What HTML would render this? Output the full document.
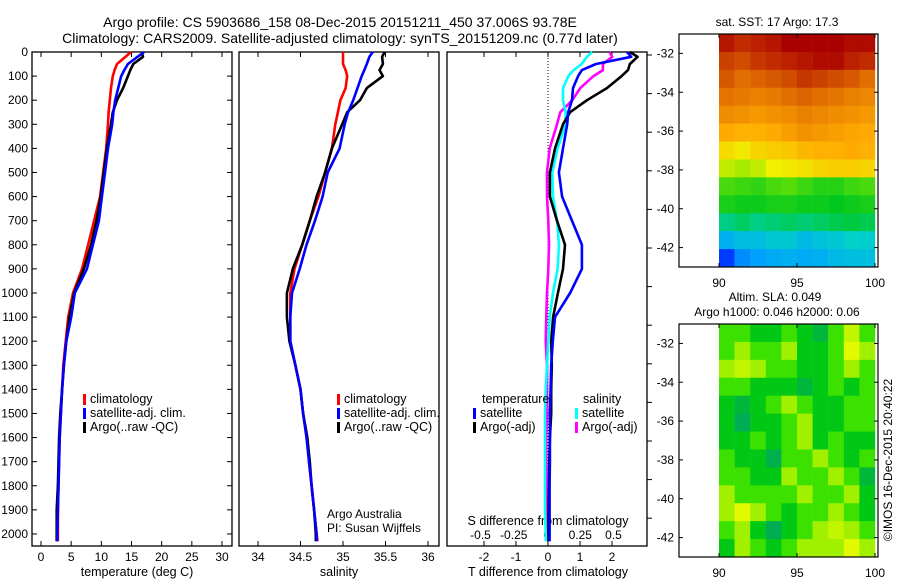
<!DOCTYPE html>
<html><head><meta charset="utf-8"><style>
body{margin:0;background:#fff}
svg{display:block;font-family:"Liberation Sans",sans-serif}
text{fill:#000}
</style></head><body>
<svg id="c" width="900" height="580" xmlns="http://www.w3.org/2000/svg">
<text x="340" y="27" font-size="14" text-anchor="middle">Argo profile: CS 5903686_158 08-Dec-2015 20151211_450 37.006S 93.78E</text>
<text x="340" y="43" font-size="14" text-anchor="middle">Climatology: CARS2009. Satellite-adjusted climatology: synTS_20151209.nc (0.77d later)</text>
<g id="g"></g>
</svg>
<script>
// ---------- data ----------
const depths = [0,20,50,75,100,150,200,250,300,400,500,600,700,800,900,1000,1100,1200,1300,1400,1500,1600,1700,1800,1900,2000,2030];
const tempClim = [14.9,14.0,12.6,12.2,11.9,11.6,11.4,11.2,11.1,10.8,10.3,9.8,8.8,7.8,6.8,5.3,4.5,4.1,3.7,3.5,3.3,3.1,3.0,2.9,2.8,2.8,2.8];
const tempSat  = [17.1,16.0,14.4,13.8,13.3,12.8,12.3,12.0,11.8,11.1,10.6,10.1,9.6,8.6,7.6,5.6,5.0,4.2,3.8,3.5,3.3,3.1,3.0,2.9,2.8,2.7,2.7];
const tempArgo = [16.7,16.9,15.3,14.8,14.4,13.6,12.6,11.9,11.6,10.9,10.4,9.9,9.2,8.3,7.1,5.5,4.7,4.2,3.8,3.5,3.2,3.0,2.9,2.8,2.6,2.6,2.6];
const salClim = [35.0,35.0,35.0,35.03,35.05,35.03,34.97,34.94,34.91,34.87,34.79,34.71,34.61,34.52,34.43,34.38,34.38,34.38,34.44,34.5,34.53,34.58,34.6,34.63,34.66,34.69,34.7];
const salSat  = [35.35,35.31,35.28,35.25,35.22,35.17,35.12,35.06,35.02,34.96,34.82,34.76,34.67,34.57,34.49,34.4,34.38,34.38,34.44,34.5,34.53,34.57,34.6,34.63,34.66,34.69,34.69];
const salArgo = [35.49,35.46,35.47,35.43,35.47,35.28,35.2,35.05,34.99,34.87,34.79,34.69,34.61,34.52,34.41,34.34,34.34,34.37,34.44,34.5,34.53,34.58,34.61,34.63,34.66,34.68,34.68];
const dTsat  = [2.47,2.6,1.5,1.06,0.94,0.78,0.75,0.63,0.6,0.47,0.34,0.44,0.75,1.06,1.06,0.69,0.22,0.15,0.1,0.08,0.06,0.06,0.06,0.05,0.05,0.05,0.05];
const dTargo = [2.56,2.8,2.56,2.5,2.3,1.84,1.22,0.69,0.47,0.22,0.06,0.06,0.28,0.53,0.47,0.31,0.16,0.1,0.12,0.1,0.1,0.06,0.04,0.03,0.02,0.02,0.02];
const dSsat  = [0.34,0.3,0.26,0.2,0.16,0.12,0.12,0.14,0.14,0.08,0.04,0.045,0.075,0.09,0.08,0.045,0.02,0.01,0.0,-0.01,-0.015,-0.015,-0.015,-0.015,-0.015,-0.01,-0.01];
const dSargo = [0.47,0.49,0.42,0.42,0.35,0.25,0.19,0.1,0.075,0.02,0.0,0.0,0.01,0.015,0.01,0.0,-0.005,-0.01,0.0,0.0,0.0,-0.005,-0.005,0.0,0.0,0.0,0.0];
const depthTicks = [0,100,200,300,400,500,600,700,800,900,1000,1100,1200,1300,1400,1500,1600,1700,1800,1900,2000];
const tempTicks = [0,5,10,15,20,25,30];
const salTicks = [34,34.5,35,35.5,36];
const salTickLabels = ["34","34.5","35","35.5","36"];
const dTTicks = [-2,-1,0,1,2];
const dSTicks = [-0.5,-0.25,0,0.25,0.5];
const dSTickLabels = ["-0.5","-0.25","0","0.25","0.5"];
const latTicks = [-32,-34,-36,-38,-40,-42];
const lonTicks = [90,95,100];
const sstGrid = [
[8.8,8.6,8.7,8.8,9,9,9,9,8.9,8.9],
[8.4,8.3,8.5,8.6,8.7,8.8,8.9,8.9,8.7,8.6],
[8.2,8,8.1,8.2,8.3,8.5,8.4,8.3,8.2,8],
[7.9,7.8,7.7,7.8,8,8.1,8,7.9,7.7,7.6],
[7.5,7.4,7.3,7.4,7.5,7.7,7.6,7.5,7.4,7.3],
[7,6.9,6.9,7,7.2,7.4,7.3,7.2,7.1,7.0],
[6.3,6.1,6.4,6.5,6.6,6.8,6.9,6.9,7,6.9],
[5.6,5.4,5.6,6,6.1,6.2,6.4,6.5,6.5,6.4],
[4.6,4.5,4.4,4.6,4.7,4.5,4.3,4.3,4.5,4.6],
[4.2,4.1,4.1,4.2,4.2,4.1,4.1,4,4.1,4.2],
[3.4,3.6,3.4,3.5,3.6,3.5,3.6,3.7,3.8,3.7],
[2.3,2.6,2.6,2.8,2.8,2.5,2.7,2.8,3,2.9],
[1,1.8,2,2.2,2.3,2.2,2.3,2.5,2.6,2.6]];
const slaGrid = [
[2,2,1,1,2,1,0.5,2,3.5,2],
[2,3,2,2,3,1,1,2,4,3],
[3,3.5,3,2,2,1,1,2,3,2],
[2,2,1,1,1,0.5,1,2,1,2],
[1,0.5,1,2,3,2,1,1,2,2],
[1,0.2,1,1,2,3,1,1,2,2],
[1,1,2,1,2,3,1,2,1,1],
[2,1,1,0.3,2,2,3,2,1,2],
[2,2,1,1,3,2,2,3,2,0.5],
[3,2,2,2,2,3,2,2,3,1],
[3,4,3,2,1,2,2,3,2,1],
[2,3,1,0.2,1,2,3,3.5,3,2],
[1,3,2,1,2,3,3,3,4,3]];

// ---------- helpers ----------
const NS="http://www.w3.org/2000/svg";
const G=document.getElementById('g');
function mk(tag,attrs,parent){const e=document.createElementNS(NS,tag);for(const k in attrs)e.setAttribute(k,attrs[k]);(parent||G).appendChild(e);return e;}
function txt(x,y,s,size,anchor,parent){const t=mk('text',{x:x,y:y,'font-size':size,'text-anchor':anchor||'middle'},parent);t.textContent=s;return t;}
const TOP=52,BOT=546;
const yD=d=>TOP+d*(BOT-TOP)/2050;
function lin(d0,d1,r0,r1){return v=>r0+(v-d0)*(r1-r0)/(d1-d0);}
const xT=lin(0,30,41,222);
const xS=lin(34,36,258,428);
const xDT=lin(0,1,548,580);
const xDS=lin(0,1,547,680);
const panels=[[32,232],[239,439],[447,647]];

panels.forEach((p,i)=>{
  const r=mk('rect',{x:p[0],y:TOP,width:p[1]-p[0],height:BOT-TOP,fill:'none',stroke:'#000','stroke-width':1.3});
  
  
});
depthTicks.forEach(d=>{
  const y=yD(d);
  mk('line',{x1:32,x2:37,y1:y,y2:y,stroke:'#000'});
  mk('line',{x1:227,x2:232,y1:y,y2:y,stroke:'#000'});
  const t=txt(28,y+4,String(d),12,'end');
  
  
});
for(let k=0;k<13;k++){const y=55+k*38.6;if(y<BOT)mk('line',{x1:647,x2:652,y1:y,y2:y,stroke:'#000'});}
function xticks(vals,labels,sc,y,top){
  vals.forEach((v,i)=>{
    const x=sc(v);
    mk('line',{x1:x,x2:x,y1:BOT,y2:BOT-5,stroke:'#000'});
    if(top) mk('line',{x1:x,x2:x,y1:TOP,y2:TOP+5,stroke:'#000'});
    const t=txt(x,y,labels[i],12);
    
    
  });
}
xticks(tempTicks,tempTicks.map(String),xT,561,true);
xticks(salTicks,salTickLabels,xS,561,true);
xticks(dTTicks,dTTicks.map(String),xDT,561,true);
dSTicks.forEach((v,i)=>{const t=txt(xDS(v),539,dSTickLabels[i],12);
  
  });
[[137,'temperature (deg C)','x-axis-title-temperature'],[339,'salinity','x-axis-title-salinity'],[548,'T difference from climatology','x-axis-title-t-diff']].forEach(a=>{
  const t=txt(a[0],576,a[1],12.5);
  
  
});
const st=txt(548,525,'S difference from climatology',12.5);


mk('line',{x1:548,x2:548,y1:TOP,y2:BOT,stroke:'#000','stroke-dasharray':'1,2','stroke-width':1});

function series(vals,sc,color,name){
  const pts=vals.map((v,i)=>sc(v).toFixed(1)+','+yD(depths[i]).toFixed(1)).join(' ');
  const pl=mk('polyline',{points:pts,fill:'none',stroke:color,'stroke-width':2.6,'stroke-linejoin':'round'});
  
  
}
series(tempClim,xT,'#f00','temp-climatology-line');
series(tempArgo,xT,'#000','temp-argo-line');
series(tempSat,xT,'#00f','temp-satellite-line');
series(salClim,xS,'#f00','sal-climatology-line');
series(salArgo,xS,'#000','sal-argo-line');
series(salSat,xS,'#00f','sal-satellite-line');
series(dSargo,xDS,'#f0f','s-diff-argo-line');
series(dSsat,xDS,'#0ff','s-diff-satellite-line');
series(dTargo,xDT,'#000','t-diff-argo-line');
series(dTsat,xDT,'#00f','t-diff-satellite-line');

function legend(x,y,items,name){
  items.forEach((it,i)=>{
    const yy=y+i*14;
    mk('rect',{x:x,y:yy-9,width:3,height:11,fill:it[1]});
    const t=txt(x+7,yy,it[0],12.5,'start');
    
    
  });
}
const L=[['climatology','#f00'],['satellite-adj. clim.','#00f'],['Argo(..raw -QC)','#000']];
legend(83,403,L,'temp-legend');
legend(337,403,L,'sal-legend');
txt(482,403,'temperature',12.5,'start');
legend(473,417,[['satellite','#00f'],['Argo(-adj)','#000']],'t-diff-legend');
txt(583,403,'salinity',12.5,'start');
legend(575,417,[['satellite','#0ff'],['Argo(-adj)','#f0f']],'s-diff-legend');
txt(327,518,'Argo Australia',12,'start');
txt(327,532,'PI: Susan Wijffels',12,'start');

// ---------- maps ----------
const stops=[[0,0,140],[0,60,255],[0,160,255],[0,210,200],[0,200,30],[120,230,0],[240,240,0],[255,170,0],[225,110,0],[170,0,0]];
const slaStops=[[0,165,100],[0,200,20],[60,225,0],[160,240,0],[225,250,0]];
function cmap(st,v){v=Math.max(0,Math.min(st.length-1,v));const i=Math.min(st.length-2,Math.floor(v)),f=v-i;const a=st[i],b=st[i+1];return 'rgb('+a.map((c,k)=>Math.round(c+(b[k]-c)*f)).join(',')+')';}
function map(oy,grid,st,name){
  const xL=lon=>719+(lon-90)*15.6;
  const yL=lat=>oy+34+(-31-lat)*(233/12);
  const g=mk('g',{});
  
  
  const nr=grid.length,dl=12/nr;
  grid.forEach((row,r)=>row.forEach((v,c)=>{
    const y0=yL(-31-r*dl),y1=yL(-31-(r+1)*dl);
    mk('rect',{x:xL(90+c*1.0),y:y0,width:15.8,height:y1-y0+0.4,fill:cmap(st,v)},g);
  }));
  mk('rect',{x:679,y:oy+34,width:199,height:233,fill:'none',stroke:'#000','stroke-width':1.2});
  latTicks.forEach(l=>{const y=yL(l);mk('line',{x1:679,x2:683,y1:y,y2:y,stroke:'#000'});mk('line',{x1:874,x2:878,y1:y,y2:y,stroke:'#000'});
    const t=txt(674,y+4,String(l),12,'end');
    
    });
  lonTicks.forEach(l=>{const x=xL(l);mk('line',{x1:x,x2:x,y1:oy+267,y2:oy+263,stroke:'#000'});mk('line',{x1:x,x2:x,y1:oy+34,y2:oy+38,stroke:'#000'});
    const t=txt(x,oy+287,String(l),12);
    
    });
}
map(0,sstGrid,stops,'sst-map');
map(290,slaGrid,slaStops,'sla-map');
const t1=txt(777,26,'sat. SST: 17 Argo: 17.3',12,'middle');


const t2=txt(775,301,'Altim. SLA: 0.049',12,'middle');


const t3=txt(777,316,'Argo h1000: 0.046 h2000: 0.06',12,'middle');


const im=txt(0,0,'©IMOS 16-Dec-2015 20:40:22',12,'middle');
im.setAttribute('transform','translate(892,460) rotate(-90)');


</script>
</body></html>
